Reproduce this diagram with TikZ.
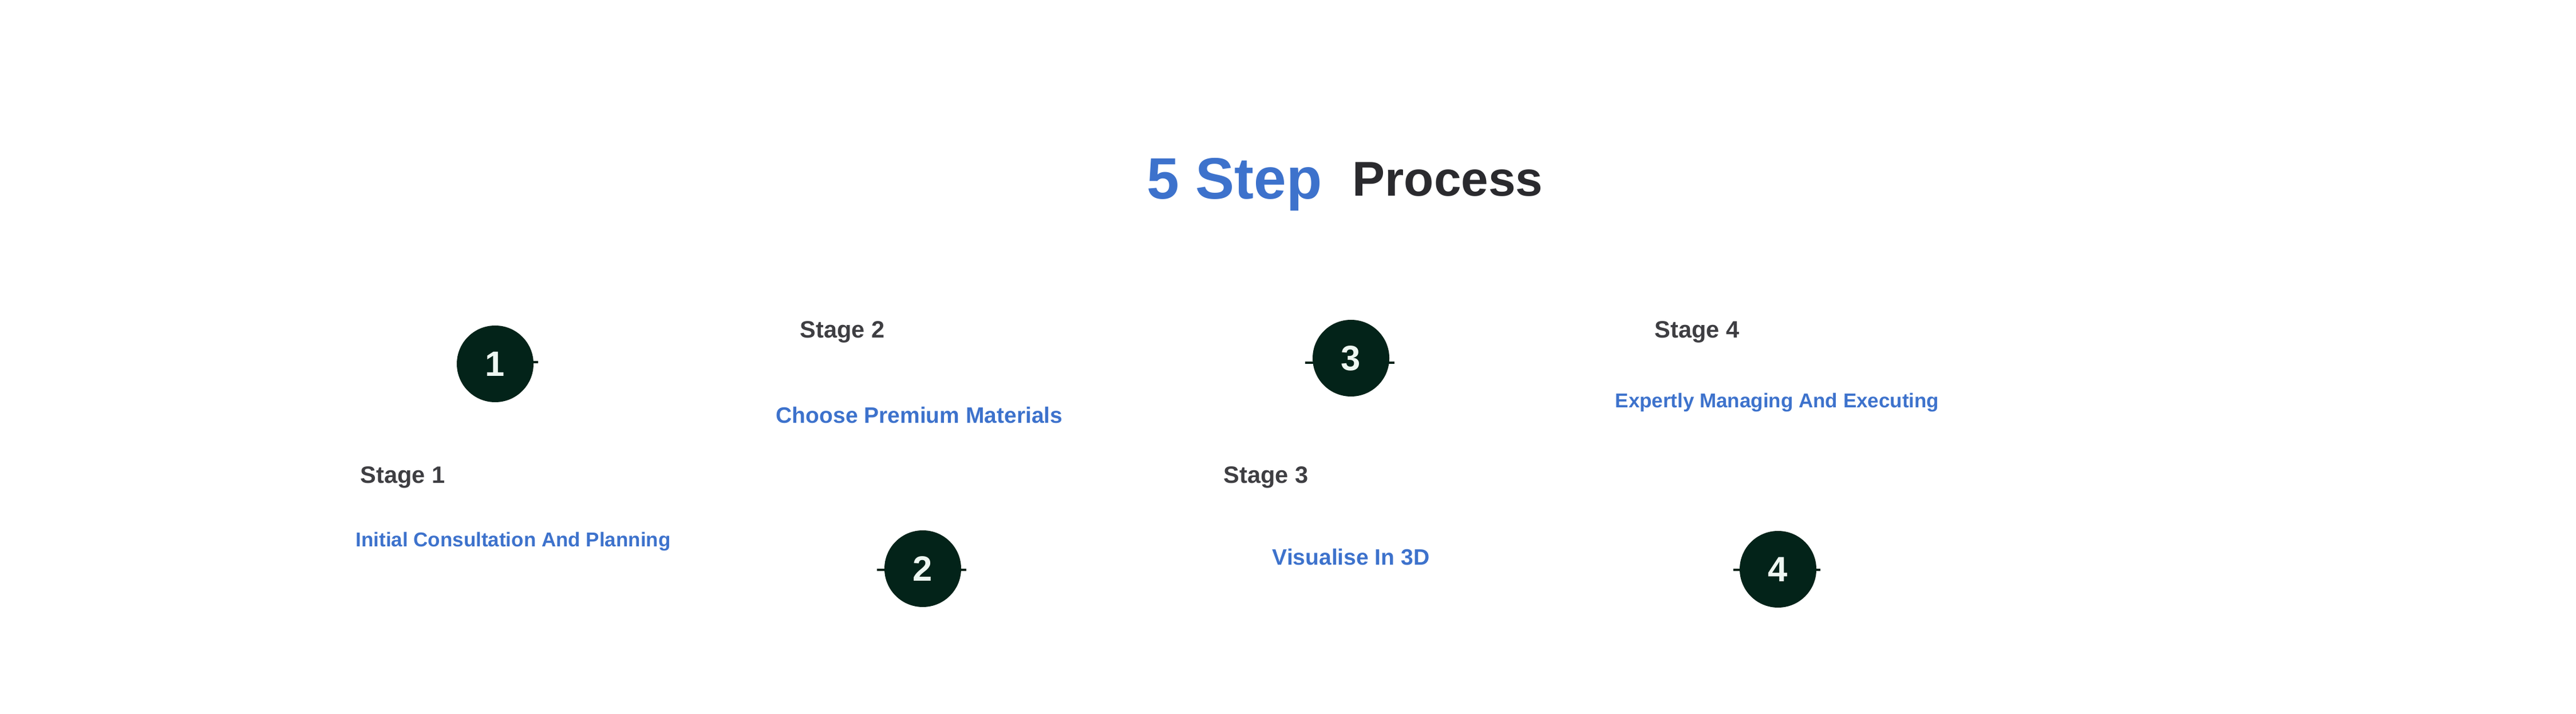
\documentclass[tikz,border=0pt]{standalone}
\usepackage{fontspec}
\setmainfont{Liberation Sans}
\definecolor{stepblue}{RGB}{61,114,204}
\definecolor{stagegray}{RGB}{62,62,66}
\definecolor{titlegray}{RGB}{42,42,46}
\definecolor{dotgreen}{RGB}{3,35,25}
\definecolor{numwhite}{RGB}{238,247,242}
\begin{document}
\begin{tikzpicture}[
        stagelabel/.style={anchor=base west, inner sep=0, text=stagegray, font=\fontsize{11.8}{14}\selectfont\bfseries},
        desclabel/.style={anchor=base west, inner sep=0, text=stepblue, font=\fontsize{11.1}{13}\selectfont\bfseries},
        smalldesc/.style={desclabel, font=\fontsize{9.95}{12}\selectfont\bfseries},
        numdot/.style={circle, fill=dotgreen, minimum size=1.34cm, inner sep=0, text=numwhite, font=\fontsize{17.5}{20}\selectfont\bfseries},
        stub/.style={draw=dotgreen, line width=1.4pt}
    ]
        \useasboundingbox (0, 0) rectangle (45, -12.48);

        % Title
        \node [anchor=base west, inner sep=0, text=stepblue, font=\fontsize{29}{34}\selectfont\bfseries] (title1) at (20.03, -3.48) {5 Step};
        \node [anchor=base west, inner sep=0, text=titlegray, font=\fontsize{24.3}{29}\selectfont\bfseries] (title2) at (23.62, -3.43) {Process};

        % Stage 1
        \draw [stub] (8.65, -6.33) -- (9.40, -6.33);
        \node [numdot] (num1) at (8.65, -6.36) {1};
        \node [stagelabel] (stage1) at (6.29, -8.44) {Stage 1};
        \node [smalldesc] (desc1) at (6.21, -9.56) {Initial Consultation And Planning};

        % Stage 2
        \draw [stub] (15.32, -9.96) -- (16.88, -9.96);
        \node [numdot] (num2) at (16.12, -9.94) {2};
        \node [stagelabel] (stage2) at (13.97, -5.91) {Stage 2};
        \node [desclabel] (desc2) at (13.55, -7.40) {Choose Premium Materials};

        % Stage 3
        \draw [stub] (22.80, -6.34) -- (24.36, -6.34);
        \node [numdot] (num3) at (23.60, -6.26) {3};
        \node [stagelabel] (stage3) at (21.37, -8.44) {Stage 3};
        \node [desclabel] (desc3) at (22.22, -9.87) {Visualise In 3D};

        % Stage 4
        \draw [stub] (30.28, -9.96) -- (31.80, -9.96);
        \node [numdot] (num4) at (31.06, -9.95) {4};
        \node [stagelabel] (stage4) at (28.90, -5.91) {Stage 4};
        \node [smalldesc] (desc4) at (28.21, -7.13) {Expertly Managing And Executing};
    \end{tikzpicture}
\end{document}
